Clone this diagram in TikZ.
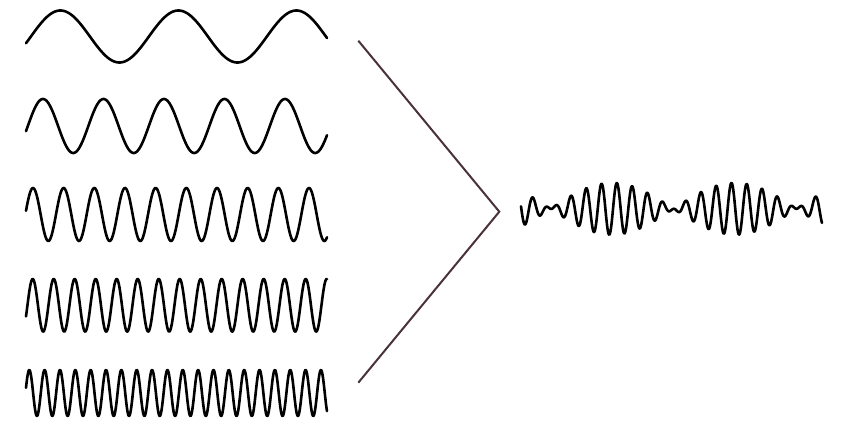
\documentclass[tikz,border=0pt]{standalone}
\usepackage{xcolor}
\definecolor{chevron}{RGB}{74,50,58}
\begin{document}
\begin{tikzpicture}[x=1pt,y=-1pt,
  wave/.style={line width=2.6pt,black,line join=round,line cap=round},
  joinline/.style={line width=2pt,chevron}]
\useasboundingbox (0,0) rectangle (843,425);
% component waves: y = c - A sin(360 (x-26)/P + phi)
\draw[wave] plot[domain=26:327,samples=300,smooth] (\x,{36.5-26*sin((\x-26)/118*360-15)});
\draw[wave] plot[domain=26:327,samples=400,smooth] (\x,{126-27*sin((\x-26)/60.5*360-11)});
\draw[wave] plot[domain=26:327,samples=500,smooth] (\x,{214.5-26.5*sin((\x-26)/30.67*360+8)});
\draw[wave] plot[domain=26:327,samples=600,smooth] (\x,{305.3-26.3*sin((\x-26)/21*360-25)});
\draw[wave] plot[domain=26:327,samples=700,smooth] (\x,{393-23*sin((\x-26)/15.35*360+13)});
% chevron
\coordinate (top) at (358.3,40.7);
\coordinate (tip) at (499.3,211.7);
\coordinate (bot) at (358.3,382.7);
\draw[joinline] (top) -- (tip) -- (bot);
% resulting wave (beats)
\draw[wave] plot[domain=521:822,samples=700,smooth] (\x,{208.8-26*cos((\x-612)/123*180)*cos((\x-571)/15.28*360)});
\end{tikzpicture}
\end{document}
